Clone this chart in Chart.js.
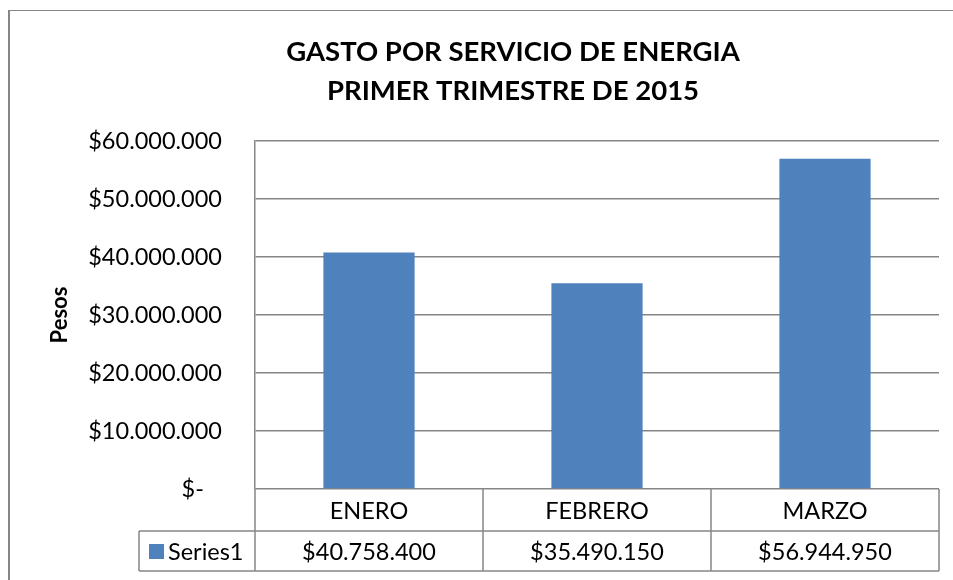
<!DOCTYPE html>
<html>
<head>
<meta charset="utf-8">
<script src="https://cdn.jsdelivr.net/npm/chart.js@4"></script>
<style>
  body { margin: 0; background: #fff; }
  #wrap { width: 953px; height: 580px; overflow: hidden; }
</style>
</head>
<body>
<div id="wrap"><canvas id="mycanvas" width="1026" height="580"></canvas></div>
<script>
var meses = ['ENERO', 'FEBRERO', 'MARZO'];
var gasto = [40758400, 35490150, 56944950];
var serieNombre = 'Series1';
var titulo = ['GASTO POR SERVICIO DE ENERGIA', 'PRIMER TRIMESTRE DE 2015'];
var yMin = 0, yMax = 60000000, yPaso = 10000000;

var gris = '#868686';
var azul = '#4F81BD';
var fuente = 'Lato, "Noto Sans", sans-serif';
var tamLetra = 23.5;

function pesos(v) {
  if (v === 0) return '$-   ';
  return '$' + String(v).replace(/\B(?=(\d{3})+(?!\d))/g, '.');
}

// marco del grafico + tabla de datos debajo del eje x
var tablaDatos = {
  id: 'tablaDatos',
  beforeDraw: function(chart) {
    var ctx = chart.ctx;
    ctx.save();
    ctx.fillStyle = '#fff';
    ctx.fillRect(0, 0, chart.width, chart.height);
    ctx.fillStyle = gris;
    ctx.fillRect(8, 10, 2, chart.height - 10);
    ctx.fillRect(8, 10, 1010, 1);
    ctx.restore();
  },
  afterDraw: function(chart) {
    var ctx = chart.ctx;
    var x = chart.scales.x;
    var area = chart.chartArea;
    var n = meses.length;
    var ancho = (area.right - area.left) / n;
    var y0 = area.bottom, y1 = y0 + 42, y2 = y0 + 82;
    var leyIzq = 139;

    ctx.save();
    ctx.strokeStyle = gris;
    ctx.lineWidth = 1.5;
    ctx.beginPath();
    ctx.moveTo(leyIzq, y1); ctx.lineTo(area.right, y1);
    ctx.moveTo(leyIzq, y2); ctx.lineTo(area.right, y2);
    ctx.moveTo(leyIzq, y1); ctx.lineTo(leyIzq, y2);
    for (var i = 0; i <= n; i++) {
      var xl = area.left + i * ancho;
      ctx.moveTo(xl, y0); ctx.lineTo(xl, y2);
    }
    ctx.stroke();

    ctx.fillStyle = '#000';
    ctx.font = tamLetra + 'px ' + fuente;
    ctx.textAlign = 'center';
    ctx.textBaseline = 'middle';
    for (var j = 0; j < n; j++) {
      var cx = x.getPixelForValue(j);
      ctx.fillText(meses[j], cx, (y0 + y1) / 2 + 1);
      ctx.fillText(pesos(gasto[j]), cx, (y1 + y2) / 2 + 1);
    }

    ctx.fillStyle = azul;
    ctx.fillRect(149, (y1 + y2) / 2 - 7, 15, 15);
    ctx.fillStyle = '#000';
    ctx.textAlign = 'left';
    ctx.fillText(serieNombre, 168, (y1 + y2) / 2 + 1);
    ctx.restore();
  }
};

var ctx = document.getElementById('mycanvas');

var grafico = new Chart(ctx, {
  type: 'bar',
  data: {
    labels: meses,
    datasets: [{
      label: serieNombre,
      data: gasto,
      backgroundColor: azul,
      borderWidth: 0,
      categoryPercentage: 1,
      barPercentage: 0.4
    }]
  },
  options: {
    responsive: false,
    animation: false,
    events: [],
    layout: { padding: 0 },
    plugins: {
      legend: { display: false },
      tooltip: { enabled: false },
      title: {
        display: true,
        text: titulo,
        color: '#000',
        font: { family: fuente, size: 27.5, weight: 'bold', lineHeight: '38.5px' },
        padding: { top: 33, bottom: 31 }
      }
    },
    scales: {
      x: {
        ticks: { display: false },
        grid: { display: false },
        border: { display: false },
        afterFit: function(scale) { scale.height = 91; }
      },
      y: {
        min: yMin,
        max: yMax,
        afterFit: function(scale) { scale.width = 255; },
        ticks: {
          stepSize: yPaso,
          padding: 33,
          color: '#000',
          font: { family: fuente, size: tamLetra },
          callback: function(v) { return pesos(v); }
        },
        grid: { color: gris, lineWidth: 1.5, drawTicks: false },
        border: { display: true, color: gris, width: 1.5 },
        title: {
          display: true,
          text: 'Pesos',
          color: '#000',
          font: { family: fuente, size: 22, weight: 'bold' },
          padding: { top: 47, bottom: 0 }
        }
      },
      // espacio vacio a la derecha (el marco sigue fuera de la imagen)
      margen: {
        type: 'linear',
        position: 'right',
        ticks: { display: false },
        grid: { display: false },
        border: { display: false },
        afterFit: function(scale) { scale.width = 87; }
      }
    }
  },
  plugins: [tablaDatos]
});
</script>
</body>
</html>
